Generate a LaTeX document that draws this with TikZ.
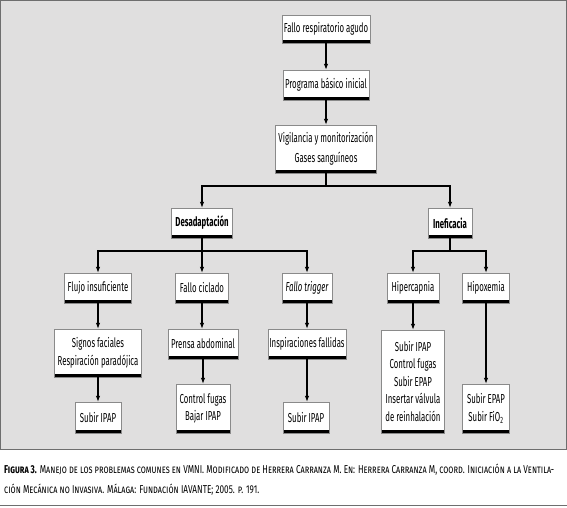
\documentclass[tikz,border=0pt]{standalone}
\usepackage{fontspec}
\setmainfont{Fira Sans}[FakeStretch=0.6]
\newfontfamily\capfont{Fira Sans}[FakeStretch=0.72]
\usetikzlibrary{arrows.meta,positioning}
\definecolor{panel}{HTML}{E0DFDF}
\definecolor{frame}{HTML}{6E6E6E}
\definecolor{boxline}{HTML}{8A8A8A}

\begin{document}
\begin{tikzpicture}[x=1pt,y=-1pt,>={Latex[length=6pt,width=4.5pt]},
    box/.style={draw=boxline,fill=white,align=center,inner sep=1pt,
      font=\fontsize{13}{17.5}\selectfont,
      path picture={\fill[black] ([yshift=3pt]path picture bounding box.south west) rectangle (path picture bounding box.south east);}},
    link/.style={->,line width=1.1pt}]
  \useasboundingbox (0,0) rectangle (567,508);
  \draw[fill=panel,draw=frame] (0.5,0.5) rectangle (566,449);
  \draw[frame,line width=1pt] (0,505) -- (567,505);
  % main trunk
  \node[box,minimum width=88pt,minimum height=28pt] (fallo) at (326,29) {Fallo respiratorio agudo};
  \node[box,minimum width=86pt,minimum height=30pt] (prog) at (326,85) {Programa básico inicial};
  \node[box,minimum width=101pt,minimum height=48pt,font=\fontsize{13}{20}\selectfont] (vigil) at (326,149) {Vigilancia y monitorización\\Gases sanguíneos};
  \node[box,minimum width=61pt,minimum height=30pt,font=\fontsize{13}{15}\selectfont\bfseries] (desad) at (202,223) {Desadaptación};
  \node[box,minimum width=44pt,minimum height=30pt,font=\fontsize{13}{15}\selectfont\bfseries] (inef) at (450,223) {Ineficacia};
  % second level
  \node[box,minimum width=67pt,minimum height=30pt] (flujo) at (98,288) {Flujo insuficiente};
  \node[box,minimum width=53pt,minimum height=30pt] (ciclado) at (202,288) {Fallo ciclado};
  \node[box,minimum width=50pt,minimum height=30pt] (trigger) at (307,288) {\itshape Fallo trigger};
  \node[box,minimum width=52pt,minimum height=30pt] (hipercap) at (413,288) {Hipercapnia};
  \node[box,minimum width=47pt,minimum height=30pt] (hipox) at (486,288) {Hipoxemia};
  % third level
  \node[box,minimum width=87pt,minimum height=48pt] (signos) at (98,353) {Signos faciales\\Respiración paradójica};
  \node[box,minimum width=70pt,minimum height=30pt] (prensa) at (203,344) {Prensa abdominal};
  \node[box,minimum width=78pt,minimum height=30pt] (inspir) at (307,344) {Inspiraciones fallidas};
  \node[box,minimum width=63pt,minimum height=103pt] (hiperact) at (413,381.5) {Subir IPAP\\Control fugas\\Subir EPAP\\Insertar válvula\\de reinhalación};
  \node[box,minimum width=47pt,minimum height=49pt] (hipoxact) at (486,408.5) {Subir EPAP\\Subir FiO\textsubscript{2}};
  % fourth level
  \node[box,minimum width=46pt,minimum height=31pt] (subirA) at (98,417.5) {Subir IPAP};
  \node[box,minimum width=54pt,minimum height=49pt] (fugas) at (203,408.5) {Control fugas\\Bajar IPAP};
  \node[box,minimum width=46pt,minimum height=31pt] (subirB) at (306,417.5) {Subir IPAP};
  % connectors
  \coordinate (split) at (326,186);
  \coordinate (splitD) at (202,251);
  \coordinate (splitI) at (450,251);
  \draw[link] (fallo) -- (prog);
  \draw[link] (prog) -- (vigil);
  \draw[line width=1.1pt] (vigil) -- (split);
  \draw[link] (split) -| (desad);
  \draw[link] (split) -| (inef);
  \draw[line width=1.1pt] (desad) -- (splitD);
  \draw[link] (splitD) -| (flujo);
  \draw[link] (splitD) -- (ciclado);
  \draw[link] (splitD) -| (trigger);
  \draw[line width=1.1pt] (inef) -- (splitI);
  \draw[link] (splitI) -| (hipercap);
  \draw[link] (splitI) -| (hipox);
  \draw[link] (flujo) -- (signos);
  \draw[link] (ciclado.south) -- (prensa.north-|ciclado.south);
  \draw[link] (trigger) -- (inspir);
  \draw[link] (hipercap) -- (hiperact);
  \draw[link] (hipox) -- (hipoxact);
  \draw[link] (signos) -- (subirA);
  \draw[link] (prensa) -- (fugas);
  \draw[link] (inspir.south) -- (subirB.north-|inspir.south);
  % caption
  \node[anchor=west,inner sep=0pt,font=\capfont\fontsize{11.4}{13}\selectfont] (cap1) at (4,470)
    {\textbf{\textsc{Figura 3.}} \textsc{Manejo de los problemas comunes en VMNI. Modificado de Herrera Carranza M. En: Herrera Carranza M, coord. Iniciación a la Ventila-}};
  \node[anchor=west,inner sep=0pt,font=\capfont\fontsize{11.4}{13}\selectfont] (cap2) at (4,490)
    {\textsc{ción Mecánica no Invasiva. Málaga: Fundación IAVANTE; 2005. p. 191.}};
\end{tikzpicture}
\end{document}
